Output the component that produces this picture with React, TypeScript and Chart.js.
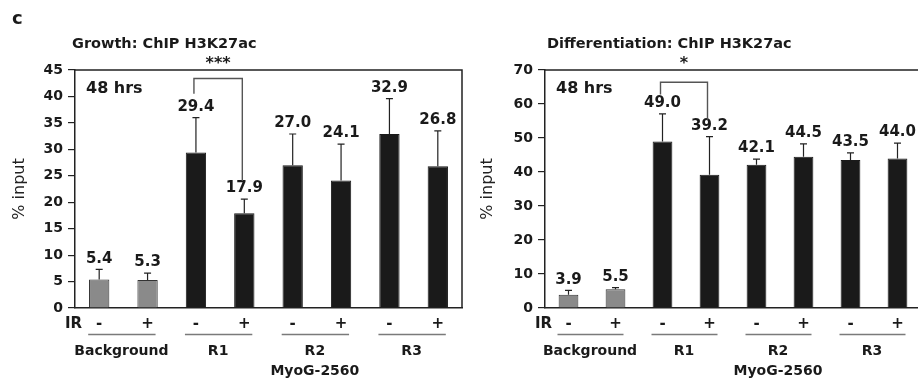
import React, { useEffect, useRef } from "react";
import { Chart, registerables } from "chart.js";

Chart.register(...registerables);

const FONT = "'DejaVu Sans', 'Liberation Sans', Arial, sans-serif";

// ---------- data ----------
const irLabels = ["-", "+", "-", "+", "-", "+", "-", "+"];
const groupNames = ["Background", "R1", "R2", "R3"];
const subGroupLabel = "MyoG-2560";

const growthValues = [5.4, 5.3, 29.4, 17.9, 27.0, 24.1, 32.9, 26.8];
const growthErrors = [1.9, 1.3, 6.6, 2.7, 5.9, 6.9, 6.7, 6.7];
const growthMax = 45;
const growthStep = 5;

const diffValues = [3.9, 5.5, 49.0, 39.2, 42.1, 44.5, 43.5, 44.0];
const diffErrors = [1.3, 0.5, 8.1, 11.2, 1.7, 3.8, 2.1, 4.5];
const diffMax = 70;
const diffStep = 10;

// significance brackets: [bar a, bar b, top value, left end value, right end value]
const growthBracket = [2, 3, 43.4, 40.5, 24.0];
const diffBracket = [2, 3, 66.4, 62.8, 55.4];
const growthStars = "***";
const diffStars = "*";

const barColors = ["#8a8a8a", "#8a8a8a", "#1a1a1a", "#1a1a1a", "#1a1a1a", "#1a1a1a", "#1a1a1a", "#1a1a1a"];
const barBorders = ["#333333", "#333333", "#1a1a1a", "#1a1a1a", "#1a1a1a", "#1a1a1a", "#1a1a1a", "#1a1a1a"];

type PanelProps = {
  title: string;
  values: number[];
  errors: number[];
  max: number;
  step: number;
  bracket: number[];
  stars: string;
  left: number;
  width: number;
  yWidth: number;
  padRight: number;
  titleDx: number;
  showLetter: boolean;
};

function makeAnnotPlugin(p: PanelProps) {
  return {
    id: "annot",
    afterDraw(chart: any) {
      const ctx = chart.ctx as CanvasRenderingContext2D;
      const xs = chart.scales.x;
      const ys = chart.scales.y;
      const ca = chart.chartArea;
      ctx.save();

      // frame (top + right)
      ctx.strokeStyle = "#222";
      ctx.lineWidth = 1.5;
      ctx.beginPath();
      ctx.moveTo(ca.left, ca.top);
      ctx.lineTo(ca.right, ca.top);
      ctx.lineTo(ca.right, ca.bottom);
      ctx.stroke();

      // error bars + value labels
      p.values.forEach((v, i) => {
        const x = xs.getPixelForValue(i);
        const y0 = ys.getPixelForValue(v);
        const y1 = ys.getPixelForValue(v + p.errors[i]);
        ctx.strokeStyle = "#222";
        ctx.lineWidth = 1.2;
        ctx.beginPath();
        ctx.moveTo(x, y0);
        ctx.lineTo(x, y1);
        ctx.moveTo(x - 3.5, y1);
        ctx.lineTo(x + 3.5, y1);
        ctx.stroke();
        ctx.fillStyle = "#1a1a1a";
        ctx.font = `bold 15px ${FONT}`;
        ctx.textAlign = "center";
        ctx.textBaseline = "middle";
        ctx.fillText(v.toFixed(1), x, y1 - 10.5);
      });

      // significance bracket
      const [a, b, topV, lV, rV] = p.bracket;
      const xl = xs.getPixelForValue(a) - 2;
      const xr = xs.getPixelForValue(b) - 2;
      const yt = ys.getPixelForValue(topV);
      ctx.strokeStyle = "#555";
      ctx.lineWidth = 1.4;
      ctx.beginPath();
      ctx.moveTo(xl, ys.getPixelForValue(lV));
      ctx.lineTo(xl, yt);
      ctx.lineTo(xr, yt);
      ctx.lineTo(xr, ys.getPixelForValue(rV));
      ctx.stroke();
      ctx.fillStyle = "#1a1a1a";
      ctx.font = `bold 16px ${FONT}`;
      ctx.textAlign = "center";
      ctx.textBaseline = "alphabetic";
      ctx.fillText(p.stars, (xl + xr) / 2, ca.top - 2.5);

      // 48 hrs
      ctx.font = `bold 16px ${FONT}`;
      ctx.textAlign = "left";
      ctx.textBaseline = "middle";
      ctx.fillText("48 hrs", ca.left + 11, ca.top + 19);

      // title
      ctx.font = `bold 14.5px ${FONT}`;
      ctx.fillText(p.title, ca.left + p.titleDx, 44);

      if (p.showLetter) {
        ctx.font = `bold 18px ${FONT}`;
        ctx.textBaseline = "alphabetic";
        ctx.fillText("c", 12, 24);
      }

      // IR label
      ctx.font = `bold 15px ${FONT}`;
      ctx.textAlign = "left";
      ctx.textBaseline = "middle";
      ctx.fillText("IR", ca.left - 10, 324);

      // group lines + labels
      groupNames.forEach((g, gi) => {
        const x0 = xs.getPixelForValue(gi * 2);
        const x1 = xs.getPixelForValue(gi * 2 + 1);
        ctx.strokeStyle = "#7a7a7a";
        ctx.lineWidth = 1.5;
        ctx.beginPath();
        ctx.moveTo(x0 - 11, 334.5);
        ctx.lineTo(x1 + 8, 334.5);
        ctx.stroke();
        ctx.fillStyle = "#1a1a1a";
        ctx.font = `bold 14px ${FONT}`;
        ctx.textAlign = "center";
        ctx.textBaseline = "middle";
        const cx = (x0 + x1) / 2 - 2;
        ctx.fillText(g, cx, 351);
        if (gi === 2) ctx.fillText(subGroupLabel, cx, 371);
      });

      ctx.restore();
    },
  };
}

function Panel(p: PanelProps) {
  const ref = useRef<HTMLCanvasElement | null>(null);
  useEffect(() => {
    if (!ref.current) return;
    const chart = new Chart(ref.current, {
      type: "bar",
      data: {
        labels: irLabels,
        datasets: [
          {
            data: p.values,
            backgroundColor: barColors,
            borderColor: barBorders,
            borderWidth: 1,
            barPercentage: 0.42,
            categoryPercentage: 1,
          },
        ],
      },
      options: {
        responsive: false,
        animation: false,
        layout: { padding: { top: 70, right: p.padRight, left: 0, bottom: 0 } },
        plugins: {
          legend: { display: false },
          tooltip: { enabled: false },
          title: { display: false },
        },
        scales: {
          x: {
            grid: { display: false, drawTicks: false },
            border: { display: true, color: "#222", width: 1.5 },
            ticks: {
              color: "#1a1a1a",
              font: { family: FONT, weight: "bold", size: 15 },
              padding: 7,
              maxRotation: 0,
              autoSkip: false,
            },
            afterFit: (s: any) => {
              s.height = 74;
            },
          },
          y: {
            min: 0,
            max: p.max,
            ticks: {
              stepSize: p.step,
              color: "#1a1a1a",
              font: { family: FONT, weight: "bold", size: 14 },
              padding: 5,
            },
            grid: {
              display: true,
              drawOnChartArea: false,
              drawTicks: true,
              tickLength: 7,
              color: "#222",
              lineWidth: 1.2,
            },
            border: { display: true, color: "#222", width: 1.5 },
            title: {
              display: true,
              text: "% input",
              color: "#222",
              font: { family: FONT, size: 16 },
              padding: { top: 10, bottom: 0 },
            },
            afterFit: (s: any) => {
              s.width = p.yWidth;
            },
          },
        },
      } as any,
      plugins: [makeAnnotPlugin(p)],
    });
    return () => chart.destroy();
  }, []);
  return (
    <canvas
      ref={ref}
      width={p.width}
      height={382}
      style={{ position: "absolute", left: p.left, top: 0, width: p.width, height: 382 }}
    />
  );
}

export default function App() {
  return (
    <div
      style={{
        position: "absolute",
        left: 0,
        top: 0,
        width: 918,
        height: 382,
        overflow: "hidden",
        background: "#ffffff",
      }}
    >
      <Panel
        title="Growth: ChIP H3K27ac"
        values={growthValues}
        errors={growthErrors}
        max={growthMax}
        step={growthStep}
        bracket={growthBracket}
        stars={growthStars}
        left={0}
        width={470}
        yWidth={75}
        padRight={8}
        titleDx={-3}
        showLetter={true}
      />
      <Panel
        title="Differentiation: ChIP H3K27ac"
        values={diffValues}
        errors={diffErrors}
        max={diffMax}
        step={diffStep}
        bracket={diffBracket}
        stars={diffStars}
        left={468}
        width={462}
        yWidth={77}
        padRight={9}
        titleDx={2}
        showLetter={false}
      />
    </div>
  );
}
